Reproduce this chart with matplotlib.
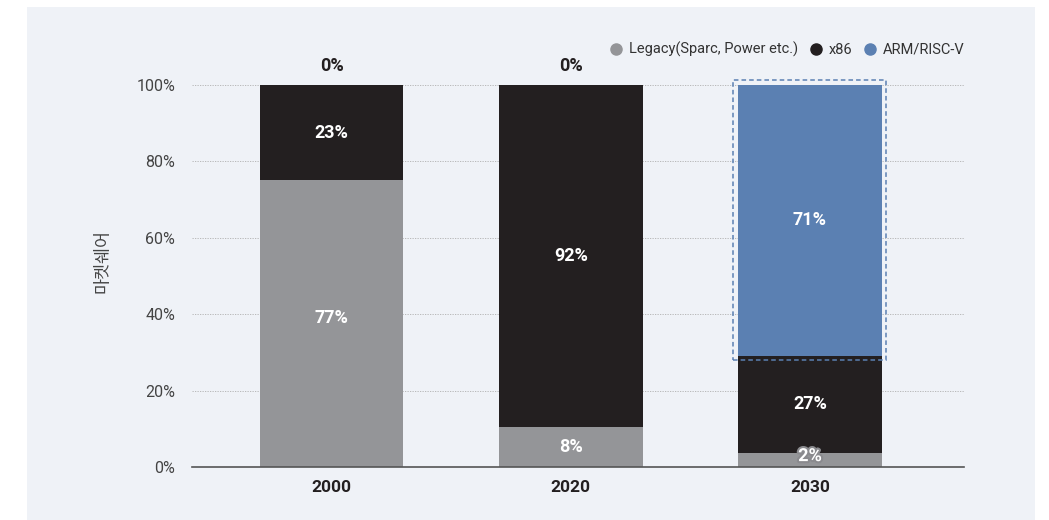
import matplotlib.pyplot as plt
from matplotlib.patches import Rectangle
from matplotlib.lines import Line2D
import matplotlib.patheffects as pe

plt.rcParams['font.family'] = ['Roboto', 'Noto Sans CJK KR', 'DejaVu Sans']

# data
years = ['2000', '2020', '2030']
legacy = [75.1, 10.5, 3.7]      # drawn heights
x86 = [24.9, 89.5, 25.4]
arm = [0.0, 0.0, 70.9]
legacy_labels = ['77%', '8%', '2%']
x86_labels = ['23%', '92%', '27%']
arm_labels = ['0%', '0%', '71%']
series_names = ['Legacy(Sparc, Power etc.)', 'x86', 'ARM/RISC-V']
yticks = [0, 20, 40, 60, 80, 100]

c_legacy = '#949598'
c_x86 = '#231f20'
c_arm = '#5b80b2'
bg = '#eff2f7'

fig = plt.figure(figsize=(10.49, 5.2), dpi=100)
fig.patches.append(Rectangle((27 / 1049, 0), (1035 - 27) / 1049, 513 / 520,
                             transform=fig.transFigure, facecolor=bg,
                             edgecolor='none', zorder=-10))

ax = fig.add_axes([192 / 1049, 53 / 520, (964 - 192) / 1049, 382 / 520])
ax.set_facecolor('none')

x = range(len(years))
w = 0.6
bottom2 = [a + b for a, b in zip(legacy, x86)]
ax.bar(x, legacy, w, color=c_legacy, zorder=2)
ax.bar(x, x86, w, bottom=legacy, color=c_x86, zorder=2)
ax.bar(x, arm, w, bottom=bottom2, color=c_arm, zorder=2)

# value labels
fs = 13
for i in x:
    if legacy[i] > 50:
        ly = legacy[i] / 2 + 1.5
    elif legacy[i] > 5:
        ly = legacy[i] / 2
    else:
        ly = legacy[i] / 2 + 1
    t = ax.text(i, ly, legacy_labels[i], ha='center', va='center', color='white',
                fontsize=fs, fontweight='bold', zorder=4)
    if legacy[i] < 5:
        t.set_path_effects([pe.withStroke(linewidth=3, foreground='#8a8a8e')])
    ax.text(i, legacy[i] + x86[i] / 2, x86_labels[i], ha='center', va='center',
            color='white', fontsize=fs, fontweight='bold', zorder=4)
    if arm[i] > 0:
        ax.text(i, bottom2[i] + arm[i] / 2, arm_labels[i], ha='center', va='center',
                color='white', fontsize=fs, fontweight='bold', zorder=4)
    else:
        ax.text(i, 102.5, arm_labels[i], ha='center', va='bottom',
                color='#231f20', fontsize=fs, fontweight='bold', zorder=4)

# dashed highlight box around the 2030 ARM bar
ax.add_patch(Rectangle((2 - 0.322, bottom2[2] - 1.0), 0.64, 100 - bottom2[2] + 2.3,
                       fill=False, edgecolor=c_arm, linestyle=(0, (3, 2)),
                       linewidth=1.1, zorder=5, clip_on=False))

ax.set_xlim(-0.584, 2.644)
ax.set_ylim(0, 100)
ax.set_yticks(yticks)
ax.set_yticklabels([f'{v}%' for v in yticks], fontsize=11.5, color='#444444')
ax.set_xticks(list(x))
ax.set_xticklabels(years, fontsize=12.5, fontweight='bold', color='#231f20')
ax.tick_params(axis='both', length=0)
ax.tick_params(axis='y', pad=12)
ax.tick_params(axis='x', pad=9)
ax.grid(axis='y', color='#b0b0b0', linestyle=(0, (1.5, 1.5)), linewidth=0.6, zorder=0)
for s in ['top', 'right', 'left']:
    ax.spines[s].set_visible(False)
ax.spines['bottom'].set_color('#555555')
ax.spines['bottom'].set_linewidth(1.2)
ax.spines['bottom'].set_zorder(3)

ax.set_ylabel('마켓쉐어', fontsize=12.5, color='#444444')
ax.yaxis.set_label_coords(-0.105, 0.54)

handles = [Line2D([], [], marker='o', linestyle='none', markersize=8, color=c)
           for c in [c_legacy, c_x86, c_arm]]
ax.legend(handles, series_names, loc='lower right', bbox_to_anchor=(1.008, 1.058),
          ncol=3, frameon=False, fontsize=10.5, handletextpad=0.15, columnspacing=0.55,
          handlelength=1.4, borderaxespad=0, labelcolor='#333333')

fig.savefig('out.png', dpi=100)
